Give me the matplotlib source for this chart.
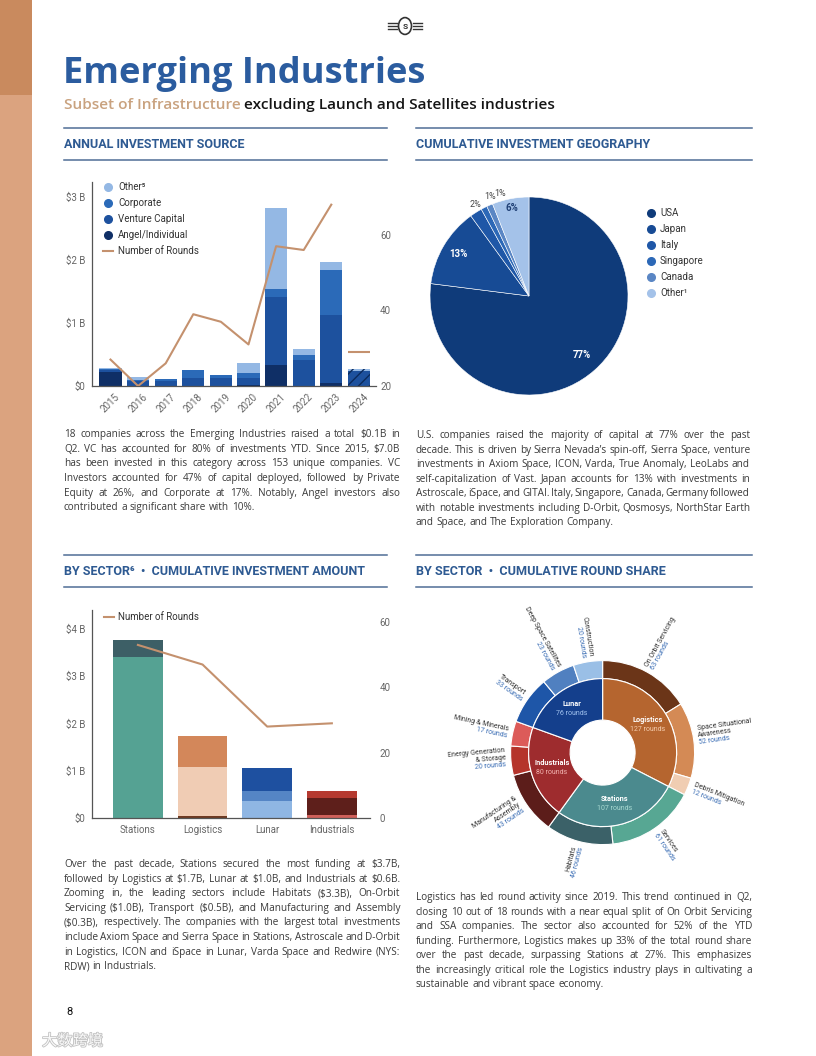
import matplotlib
matplotlib.use('Agg')
import matplotlib.pyplot as plt
from matplotlib.lines import Line2D
from matplotlib.patches import Rectangle, Circle
import matplotlib.patheffects as pe
import numpy as np

# ---------------- data ----------------
years = ['2015', '2016', '2017', '2018', '2019', '2020', '2021', '2022', '2023', '2024']
angel = [0.22, 0.00, 0.00, 0.00, 0.00, 0.01, 0.34, 0.00, 0.05, 0.00]
venture = [0.03, 0.08, 0.08, 0.13, 0.13, 0.11, 1.08, 0.41, 1.07, 0.24]
corporate = [0.02, 0.02, 0.025, 0.13, 0.04, 0.08, 0.12, 0.08, 0.73, 0.00]
other_src = [0.01, 0.04, 0.00, 0.00, 0.00, 0.17, 1.29, 0.09, 0.12, 0.03]
annual_rounds = [27, 20, 26, 39, 37, 31, 57, 56, 68, 29]
source_labels = ['Other\u2075', 'Corporate', 'Venture Capital', 'Angel/Individual']

geo_labels = ['USA', 'Japan', 'Italy', 'Singapore', 'Canada', 'Other\u00b9']
geo_share = [77, 13, 2, 1, 1, 6]

sectors = ['Stations', 'Logistics', 'Lunar', 'Industrials']
seg_bottom = [3.40, 0.05, 0.37, 0.07]
seg_middle = [0.00, 1.03, 0.21, 0.35]
seg_top = [0.37, 0.65, 0.47, 0.15]
sector_rounds = [53, 47, 28, 29]

inner_names = ['Logistics', 'Stations', 'Industrials', 'Lunar']
inner_rounds = [127, 107, 80, 76]
outer_names = ['On Orbit Servicing', 'Space Situational\nAwareness', 'Debris Mitigation',
               'Services', 'Habitats', 'Manufacturing &\nAssembly',
               'Energy Generation\n& Storage', 'Mining & Minerals',
               'Transport', 'Deep Space Satellites', 'Construction']
outer_rounds = [63, 52, 12, 61, 46, 43, 20, 17, 33, 23, 20]

# ---------------- styles ----------------
W, H = 816, 1056
plt.rcParams['font.family'] = ['Roboto', 'DejaVu Sans']
plt.rcParams['hatch.linewidth'] = 1.0
fig = plt.figure(figsize=(W / 100, H / 100), dpi=100)
R = fig.canvas.get_renderer()

BLUE_T = '#2B5C9F'
HEAD = '#2E5A92'
RULE = '#4F6D96'
TXT = '#3A3A3A'
AX = '#666666'
LINE = '#C4916E'
BODY_FONT = ['Open Sans', 'DejaVu Sans']

C_ANGEL, C_VC, C_CORP, C_OTHER = '#0F2F66', '#1D519E', '#2B6AB8', '#94B8E4'
geo_colors = ['#0F3B7A', '#174B95', '#1F57A7', '#2C68B7', '#5A86C4', '#A4C2E9']
bot_colors = ['#55A293', '#6E3A22', '#8FB6E3', '#D0605A']
mid_colors = ['#55A293', '#F0CCB4', '#5585C5', '#5E1F1B']
top_colors = ['#3D5F66', '#D3875A', '#1E50A0', '#B53A30']
inner_colors = ['#B5652F', '#4B8A8E', '#9E2C2E', '#143F8C']
inner_sub = ['#F5CDAE', '#A9DAD2', '#F2B3B0', '#A3C4F0']
outer_colors = ['#6B3518', '#D48A55', '#F0CDB2', '#57A793', '#3B6168',
                '#5C1D1A', '#B5342B', '#DC5B59', '#1E56A8', '#5080C0', '#9ABFE6']


def fx(x):
    return x / W


def fy(y):
    return 1 - y / H


def add_ax(l, t, r, b):
    return fig.add_axes([fx(l), fy(b), (r - l) / W, (b - t) / H])


def ftext(x, y, s, **kw):
    kw.setdefault('parse_math', False)
    return fig.text(fx(x), fy(y), s, **kw)


def hrule(x0, x1, y, color=RULE, lw=1.1):
    fig.add_artist(Line2D([fx(x0), fx(x1)], [fy(y), fy(y)], color=color, lw=lw,
                          transform=fig.transFigure))


def width(t):
    return t.get_window_extent(R).width


def fit(t, target):
    t.set_fontsize(t.get_fontsize() * target / width(t))


def justify(lines, x0, x1, y0, dy, size):
    sp = ftext(0, 0, 'a a', fontsize=size, family=BODY_FONT)
    a = ftext(0, 0, 'aa', fontsize=size, family=BODY_FONT)
    space = width(sp) - width(a)
    sp.remove(); a.remove()
    for i, line in enumerate(lines):
        y = y0 + i * dy + 3.2  # baseline
        words = line.split()
        objs = [ftext(0, y, w, fontsize=size, family=BODY_FONT, color=TXT, va='baseline', ha='left')
                for w in words]
        ws = [width(o) for o in objs]
        avail = x1 - x0
        min_total = sum(ws) + 0.55 * space * (len(words) - 1)
        if min_total > avail:
            k = avail / min_total
            for o in objs:
                o.set_fontsize(size * k)
            ws = [width(o) for o in objs]
        if i == len(lines) - 1 or len(words) == 1:
            gap = space
        else:
            gap = (avail - sum(ws)) / (len(words) - 1)
        x = x0
        for o, w in zip(objs, ws):
            o.set_x(fx(x))
            x += w + gap


# ---------------- page decoration ----------------
fig.add_artist(Rectangle((0, fy(95)), fx(32), 95 / H, color='#C98A5E', transform=fig.transFigure, lw=0))
fig.add_artist(Rectangle((0, 0), fx(32), fy(95), color='#DBA37F', transform=fig.transFigure, lw=0))

# logo
fig.add_artist(Circle((fx(405), fy(26)), 6.5 / W, transform=fig.transFigure, fc='white', ec='#333', lw=1.2))
for yy in (23, 26, 29):
    fig.add_artist(Line2D([fx(388), fx(397)], [fy(yy), fy(yy)], color='#333', lw=1, transform=fig.transFigure))
    fig.add_artist(Line2D([fx(413), fx(422)], [fy(yy), fy(yy)], color='#333', lw=1, transform=fig.transFigure))
ftext(405, 26.5, 'S', fontsize=6, weight='bold', color='#333', ha='center', va='center')

t = ftext(63, 74, 'Emerging Industries', fontsize=30, weight='bold', color=BLUE_T,
          family=['Open Sans', 'DejaVu Sans'], va='center')
fit(t, 363)

s1 = ftext(64, 105, 'Subset of Infrastructure', fontsize=10, weight='semibold', color='#C9A27F',
           family=['Open Sans', 'DejaVu Sans'], va='center')
s2 = ftext(64, 105, 'excluding Launch and Satellites industries', fontsize=10, weight='semibold',
           color='#151515', family=['Open Sans', 'DejaVu Sans'], va='center')
scale = (489 - 3) / (width(s1) + width(s2))
s1.set_fontsize(10 * scale); s2.set_fontsize(10 * scale)
s2.set_x(fx(64 + width(s1) + 3.5))

# section headers
for (x0, x1, y, txt, tw) in [(64, 387, 128, 'ANNUAL INVESTMENT SOURCE', 182),
                             (416, 752, 128, 'CUMULATIVE INVESTMENT GEOGRAPHY', 236),
                             (64, 387, 555, 'BY SECTOR\u2076  \u2022  CUMULATIVE INVESTMENT AMOUNT', 302),
                             (416, 752, 555, 'BY SECTOR  \u2022  CUMULATIVE ROUND SHARE', 250)]:
    hrule(x0, x1, y)
    hrule(x0, x1, y + 32)
    h = ftext(x0, y + 16.5, txt, fontsize=8, weight='bold', color=HEAD, va='center')
    fit(h, tw)

# ---------------- chart 1: annual investment source ----------------
ax1 = add_ax(92, 182, 376, 386)
x = np.arange(len(years))
bottom = np.zeros(len(years))
for vals, col in [(angel, C_ANGEL), (venture, C_VC), (corporate, C_CORP), (other_src, C_OTHER)]:
    bars = ax1.bar(x, vals, 0.8, bottom=bottom, color=col, lw=0)
    bars[-1].set_hatch('///')
    bars[-1].set_edgecolor('#0B2A5C')
    bottom += np.array(vals)
ax1.set_xlim(-0.67, 9.62)
ax1.set_ylim(0, 3.24)
ax1.set_yticks([0, 1, 2, 3], ['$0', '$1 B', '$2 B', '$3 B'])
ax1.set_xticks(x, years, rotation=45)
ax1.tick_params(length=0, labelsize=7, colors=AX, pad=5)
ax1.tick_params(axis='x', pad=4)
for sname in ('top', 'right'):
    ax1.spines[sname].set_visible(False)
for sname in ('left', 'bottom'):
    ax1.spines[sname].set_color('#555'); ax1.spines[sname].set_linewidth(0.9)

ax1r = ax1.twinx()
ax1r.set_ylim(20, 74)
ax1r.plot(x[:-1], annual_rounds[:-1], color=LINE, lw=1.5)
ax1r.hlines(annual_rounds[-1], x[-1] - 0.4, x[-1] + 0.4, color=LINE, lw=1.5)
ax1r.set_yticks([20, 40, 60])
ax1r.tick_params(length=0, labelsize=7, colors=AX, pad=3)
for sname in ax1r.spines:
    ax1r.spines[sname].set_visible(False)

leg_cols = [C_OTHER, C_CORP, C_VC, C_ANGEL]
for i, (lab, col) in enumerate(zip(source_labels, leg_cols)):
    yy = 187 + 16 * i
    fig.add_artist(Line2D([fx(108)], [fy(yy)], marker='o', ms=5.5, color=col, lw=0, transform=fig.transFigure))
    ftext(118, yy, lab, fontsize=7, color='#333', va='center')
fig.add_artist(Line2D([fx(103), fx(113)], [fy(251), fy(251)], color=LINE, lw=1.5, transform=fig.transFigure))
ftext(118, 251, 'Number of Rounds', fontsize=7, color='#333', va='center')

# ---------------- chart 2: geography pie ----------------
cx, cy, rad = 529, 296, 99
ax2 = add_ax(cx - 110, cy - 110, cx + 110, cy + 110)
ax2.pie(geo_share, colors=geo_colors, startangle=90, counterclock=False, radius=1,
        wedgeprops=dict(edgecolor='white', linewidth=0.4))
lim = 110 / rad
ax2.set_xlim(-lim, lim); ax2.set_ylim(-lim, lim)
cum = np.cumsum([0] + geo_share)
tot = float(sum(geo_share))
label_r = [0.8, 0.83, 1.07, 1.08, 1.08, 0.9]
angle_shift = [0, 0, -2, -5.5, -7.5, 0]
label_col = ['white', 'white', '#444', '#444', '#444', '#1E3F75']
for i, v in enumerate(geo_share):
    mid = 90 - 360 * (cum[i] + v / 2) / tot + angle_shift[i]
    a = np.deg2rad(mid)
    ax2.text(label_r[i] * np.cos(a), label_r[i] * np.sin(a), f'{v}%', ha='center', va='center',
             fontsize=7 if label_r[i] < 1 else 6.5,
             weight='bold' if label_r[i] < 1 else 'normal', color=label_col[i])
for i, (lab, col) in enumerate(zip(geo_labels, geo_colors)):
    yy = 213 + 16 * i
    fig.add_artist(Line2D([fx(651)], [fy(yy)], marker='o', ms=5.5, color=col, lw=0, transform=fig.transFigure))
    ftext(660, yy, lab, fontsize=7, color='#333', va='center')

# ---------------- chart 3: sector investment ----------------
ax3 = add_ax(92, 610, 370, 818)
xs = np.arange(len(sectors))
b0 = np.zeros(len(sectors))
for vals, cols in [(seg_bottom, bot_colors), (seg_middle, mid_colors), (seg_top, top_colors)]:
    ax3.bar(xs, vals, 0.77, bottom=b0, color=cols, lw=0)
    b0 += np.array(vals)
ax3.set_xlim(-0.71, 3.59)
ax3.set_ylim(0, 4.4)
ax3.set_yticks([0, 1, 2, 3, 4], ['$0', '$1 B', '$2 B', '$3 B', '$4 B'])
ax3.set_xticks(xs, sectors)
ax3.tick_params(length=0, labelsize=7, colors=AX, pad=5)
for sname in ('top', 'right'):
    ax3.spines[sname].set_visible(False)
for sname in ('left', 'bottom'):
    ax3.spines[sname].set_color('#555'); ax3.spines[sname].set_linewidth(0.9)
ax3r = ax3.twinx()
ax3r.set_ylim(0, 63.7)
ax3r.plot(xs, sector_rounds, color=LINE, lw=1.5)
ax3r.set_yticks([0, 20, 40, 60])
ax3r.tick_params(length=0, labelsize=7, colors=AX, pad=7)
for sname in ax3r.spines:
    ax3r.spines[sname].set_visible(False)
fig.add_artist(Line2D([fx(104), fx(114)], [fy(617), fy(617)], color=LINE, lw=1.5, transform=fig.transFigure))
ftext(118, 617, 'Number of Rounds', fontsize=7, color='#333', va='center')

# ---------------- chart 4: sunburst ----------------
sx, sy = 602.6, 752.6
ax4 = add_ax(sx - 150, sy - 150, sx + 150, sy + 150)
ax4.pie(outer_rounds, colors=outer_colors, radius=92, startangle=90, counterclock=False,
        wedgeprops=dict(width=18, edgecolor='white', linewidth=0.8))
ax4.pie(inner_rounds, colors=inner_colors, radius=74, startangle=90, counterclock=False,
        wedgeprops=dict(width=41.5, edgecolor='white', linewidth=0.8))
ax4.set_xlim(-150, 150); ax4.set_ylim(-150, 150)
ax4.set_aspect('equal')

ctot = float(sum(inner_rounds))
ccum = np.cumsum([0] + inner_rounds)
for i, (nm, v) in enumerate(zip(inner_names, inner_rounds)):
    mid = np.deg2rad(90 - 360 * (ccum[i] + v / 2) / ctot)
    px_, py_ = 53 * np.cos(mid), 53 * np.sin(mid)
    ax4.text(px_, py_ + 1, nm, ha='center', va='bottom', fontsize=5.3, weight='bold', color='white')
    ax4.text(px_, py_ - 1, f'{v} rounds', ha='center', va='top', fontsize=5, color=inner_sub[i])

ocum = np.cumsum([0] + outer_rounds)
for i, (nm, v) in enumerate(zip(outer_names, outer_rounds)):
    mid_deg = 90 - 360 * (ocum[i] + v / 2) / ctot
    mid = np.deg2rad(mid_deg)
    px_, py_ = 97 * np.cos(mid), 97 * np.sin(mid)
    ang = (mid_deg + 180) % 360 - 180
    if -90 <= ang <= 90:
        rot, ha = ang, 'left'
    else:
        rot, ha = ang + 180 if ang < 0 else ang - 180, 'right'
    ax4.text(px_, py_, nm, rotation=rot, rotation_mode='anchor', ha=ha, va='bottom',
             multialignment=ha, fontsize=5, color='#333', linespacing=1.05)
    ax4.text(px_, py_, f'{v} rounds', rotation=rot, rotation_mode='anchor', ha=ha, va='top',
             fontsize=5, color='#3A6DB4')

# ---------------- paragraphs ----------------
p1 = ["18 companies across the Emerging Industries raised a total $0.1B in",
      "Q2. VC has accounted for 80% of investments YTD. Since 2015, $7.0B",
      "has been invested in this category across 153 unique companies. VC",
      "Investors accounted for 47% of capital deployed, followed by Private",
      "Equity at 26%, and Corporate at 17%. Notably, Angel investors also",
      "contributed a significant share with 10%."]
p2 = ["U.S. companies raised the majority of capital at 77% over the past",
      "decade. This is driven by Sierra Nevada\u2019s spin-off, Sierra Space, venture",
      "investments in Axiom Space, ICON, Varda, True Anomaly, LeoLabs and",
      "self-capitalization of Vast. Japan accounts for 13% with  investments in",
      "Astroscale, iSpace, and GITAI. Italy, Singapore, Canada, Germany followed",
      "with notable investments including D-Orbit, Qosmosys, NorthStar Earth",
      "and Space, and The Exploration Company."]
p3 = ["Over the past decade, Stations secured the most funding at $3.7B,",
      "followed by Logistics at $1.7B, Lunar at $1.0B, and Industrials at $0.6B.",
      "Zooming in, the leading sectors include Habitats ($3.3B), On-Orbit",
      "Servicing ($1.0B), Transport ($0.5B), and Manufacturing and Assembly",
      "($0.3B), respectively. The companies with the largest total investments",
      "include Axiom Space and Sierra Space in Stations, Astroscale and D-Orbit",
      "in Logistics, ICON and iSpace in Lunar, Varda Space and Redwire (NYS:",
      "RDW) in Industrials."]
p4 = ["Logistics has led round activity since 2019. This trend continued in Q2,",
      "closing 10 out of 18 rounds with a near equal split of On Orbit Servicing",
      "and SSA companies. The sector also accounted for 52% of the YTD",
      "funding. Furthermore, Logistics makes up 33% of the total round share",
      "over the past decade, surpassing Stations at 27%. This emphasizes",
      "the increasingly critical role the Logistics industry plays in cultivating a",
      "sustainable and vibrant space economy."]
BS = 7.2
justify(p1, 64, 400, 434, 14.6, BS)
justify(p2, 416, 750, 435, 14.5, BS)
justify(p3, 64, 400, 864, 14.57, BS)
justify(p4, 416, 752, 897, 14.5, BS)

ftext(66, 1012, '8', fontsize=8, color='#111', va='center')
ftext(42, 1041, '大数跨境', fontsize=11, color='white', va='center',
      family=['Noto Sans CJK SC', 'DejaVu Sans'], alpha=0.9,
      path_effects=[pe.withStroke(linewidth=1.2, foreground='#BBBBBB')])

fig.savefig('out.png', dpi=100)
